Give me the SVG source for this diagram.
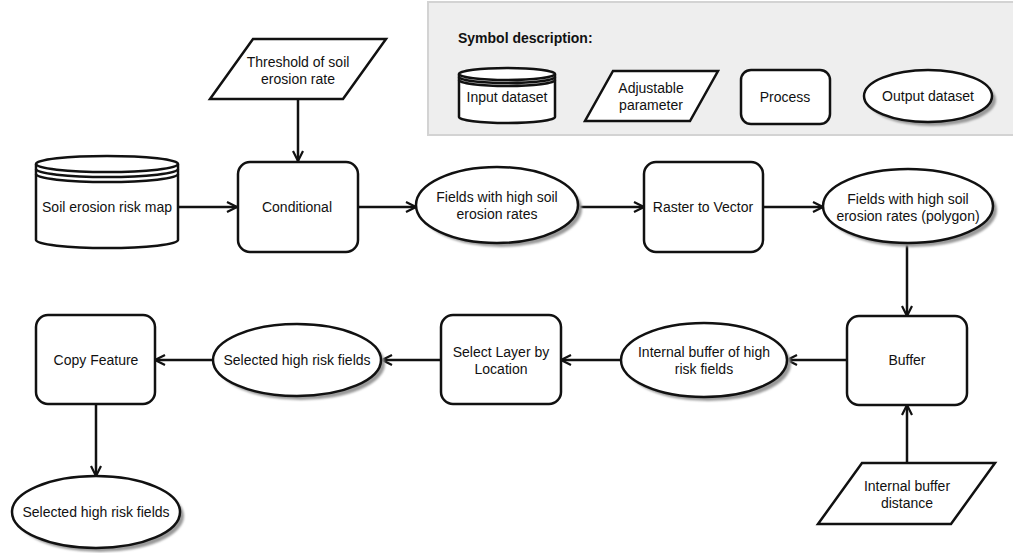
<svg xmlns="http://www.w3.org/2000/svg" width="1013" height="553" viewBox="0 0 1013 553">
<style>
.n{fill:#fff;stroke:#111;stroke-width:2.5}
.sh{fill:#9a9a9a;stroke:none;filter:url(#blur)}
.t{font-family:"Liberation Sans",Arial,sans-serif;font-size:14px;fill:#111;text-anchor:middle;dominant-baseline:central}
.c{fill:none;stroke:#111;stroke-width:2.5}
</style>
<defs>
<filter id="blur" x="-10%" y="-10%" width="120%" height="120%"><feGaussianBlur stdDeviation="1"/></filter>
<marker id="arr" viewBox="0 0 12 12" refX="11" refY="6" markerWidth="12" markerHeight="12" orient="auto" markerUnits="userSpaceOnUse">
<path d="M1,1 L11,6 L1,11" fill="none" stroke="#111" stroke-width="2.2"/>
</marker>
</defs>
<rect width="1013" height="553" fill="#fff"/>

<g id="legend">
<rect x="428" y="2" width="600" height="133" fill="#eeeeee" stroke="#d3d3d3" stroke-width="2"/>
<text x="458" y="38" style="font-family:'Liberation Sans',Arial,sans-serif;font-size:14px;font-weight:bold;fill:#111;dominant-baseline:central">Symbol description:</text>
<g id="legend-input">
<path class="n" d="M459,74 A48,6 0 0 1 555,74 L555,117 A48,6 0 0 1 459,117 Z"/>
<path class="c" d="M459,74 A48,6 0 0 0 555,74 M459,77 A48,6 0 0 0 555,77 M459,80 A48,6 0 0 0 555,80" stroke-width="1.5"/>
<text class="t" x="507" y="97">Input dataset</text>
</g>
<g id="legend-param">
<polygon class="n" points="613,71 718,71 690,121 585,121"/>
<text class="t" x="651" y="88">Adjustable</text>
<text class="t" x="651" y="105">parameter</text>
</g>
<g id="legend-process">
<rect class="n" x="741" y="70" width="89" height="54" rx="10"/>
<text class="t" x="785" y="97">Process</text>
</g>
<g id="legend-output">
<ellipse class="sh" cx="932" cy="100" rx="64" ry="26"/>
<ellipse class="n" cx="928" cy="96" rx="64" ry="26"/>
<text class="t" x="928" y="96">Output dataset</text>
</g>
</g>

<g id="connectors" class="c">
<line x1="298" y1="99" x2="298" y2="161" marker-end="url(#arr)"/>
<line x1="178" y1="207" x2="237" y2="207" marker-end="url(#arr)"/>
<line x1="358" y1="207" x2="416" y2="207" marker-end="url(#arr)"/>
<line x1="578" y1="207" x2="644" y2="207" marker-end="url(#arr)"/>
<line x1="763" y1="207" x2="823" y2="207" marker-end="url(#arr)"/>
<line x1="907" y1="242" x2="907" y2="316" marker-end="url(#arr)"/>
<line x1="907" y1="463" x2="907" y2="405" marker-end="url(#arr)"/>
<line x1="847" y1="360" x2="787" y2="360" marker-end="url(#arr)"/>
<line x1="621" y1="360" x2="561" y2="360" marker-end="url(#arr)"/>
<line x1="441" y1="360" x2="382" y2="360" marker-end="url(#arr)"/>
<line x1="213" y1="360" x2="155" y2="360" marker-end="url(#arr)"/>
<line x1="96" y1="404" x2="96" y2="476" marker-end="url(#arr)"/>
</g>

<g id="threshold">
<polygon class="n" points="253,39 386,39 343,99 210,99"/>
<text class="t" x="298" y="62">Threshold of soil</text>
<text class="t" x="298" y="79">erosion rate</text>
</g>

<g id="soil-map">
<path class="n" d="M36,164 A71,8 0 0 1 178,164 L178,240 A71,8 0 0 1 36,240 Z"/>
<path class="c" d="M36,164 A71,8 0 0 0 178,164 M36,169 A71,8 0 0 0 178,169 M36,174 A71,8 0 0 0 178,174" stroke-width="1.6"/>
<text class="t" x="107" y="207">Soil erosion risk map</text>
</g>

<g id="conditional">
<rect class="n" x="238" y="162" width="120" height="90" rx="12"/>
<text class="t" x="297" y="207">Conditional</text>
</g>

<g id="fields-high">
<ellipse class="sh" cx="501" cy="209" rx="81" ry="38"/>
<ellipse class="n" cx="497" cy="205" rx="81" ry="38"/>
<text class="t" x="497" y="197">Fields with high soil</text>
<text class="t" x="497" y="214">erosion rates</text>
</g>

<g id="raster-to-vector">
<rect class="n" x="644" y="162" width="119" height="90" rx="12"/>
<text class="t" x="703" y="207">Raster to Vector</text>
</g>

<g id="fields-polygon">
<ellipse class="sh" cx="912" cy="210" rx="85" ry="37"/>
<ellipse class="n" cx="908" cy="206" rx="85" ry="37"/>
<text class="t" x="908" y="199">Fields with high soil</text>
<text class="t" x="908" y="216">erosion rates (polygon)</text>
</g>

<g id="buffer">
<rect class="n" x="847" y="316" width="120" height="89" rx="12"/>
<text class="t" x="907" y="360">Buffer</text>
</g>

<g id="buffer-distance">
<polygon class="n" points="862,463 995,463 951,524 818,524"/>
<text class="t" x="907" y="486">Internal buffer</text>
<text class="t" x="907" y="503">distance</text>
</g>

<g id="internal-buffer">
<ellipse class="sh" cx="708" cy="364" rx="83" ry="37"/>
<ellipse class="n" cx="704" cy="360" rx="83" ry="37"/>
<text class="t" x="704" y="352">Internal buffer of high</text>
<text class="t" x="704" y="369">risk fields</text>
</g>

<g id="select-layer">
<rect class="n" x="441" y="315" width="120" height="89" rx="12"/>
<text class="t" x="501" y="352">Select Layer by</text>
<text class="t" x="501" y="369">Location</text>
</g>

<g id="selected-1">
<ellipse class="sh" cx="301" cy="364" rx="84" ry="36"/>
<ellipse class="n" cx="297" cy="360" rx="84" ry="36"/>
<text class="t" x="297" y="360">Selected high risk fields</text>
</g>

<g id="copy-feature">
<rect class="n" x="36" y="315" width="119" height="89" rx="12"/>
<text class="t" x="96" y="360">Copy Feature</text>
</g>

<g id="selected-2">
<ellipse class="sh" cx="100" cy="516" rx="84" ry="36"/>
<ellipse class="n" cx="96" cy="512" rx="84" ry="36"/>
<text class="t" x="96" y="512">Selected high risk fields</text>
</g>
</svg>
